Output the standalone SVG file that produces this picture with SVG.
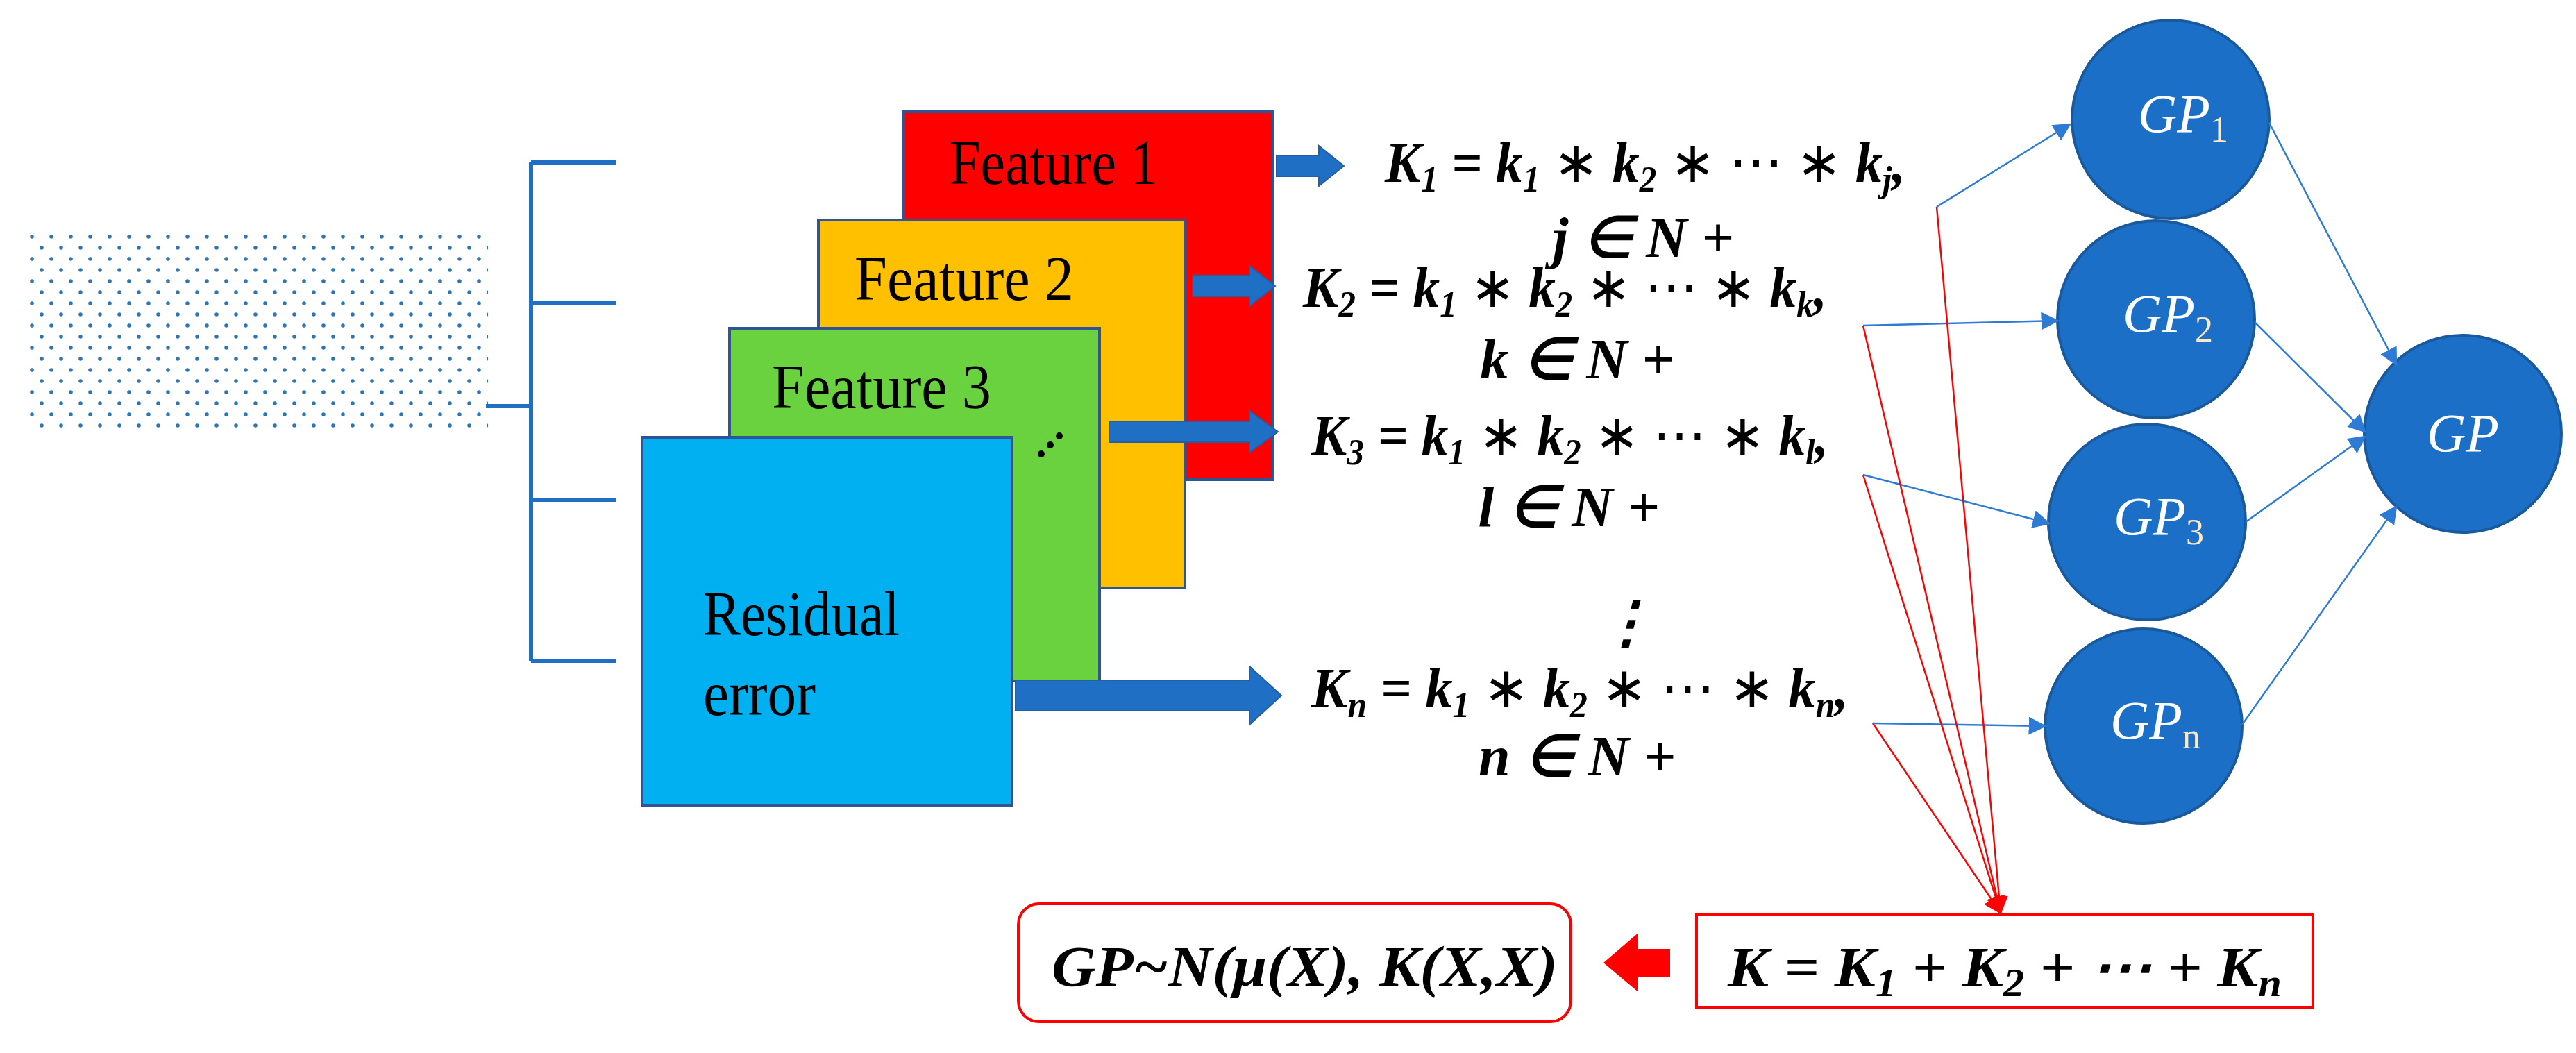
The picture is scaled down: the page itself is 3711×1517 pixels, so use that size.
<svg xmlns="http://www.w3.org/2000/svg" width="3711" height="1517" viewBox="0 0 3711 1517">
<style>
.feat{font-family:"Liberation Serif",serif;font-size:92px;fill:#000}
.math{font-family:"Liberation Serif",serif;font-style:italic;font-weight:bold;font-size:82px;fill:#000}
.op{font-weight:normal;font-style:normal}
.gp{font-family:"Liberation Serif",serif;font-style:italic;font-size:78px;fill:#fff}
.sub{font-family:"Liberation Serif",serif;font-style:normal;font-size:52px;fill:#fde9c8}
.node{fill:#1B6FC6;stroke:#1A5A9C;stroke-width:4}
.bl{stroke:#2E7BD6;stroke-width:2.5;fill:none}
.rl{stroke:#FF0000;stroke-width:2.5;fill:none}
.br{stroke:#1F6FC5;stroke-width:6;fill:none}
.barrow{fill:#1F6FC5;stroke:#2060A8;stroke-width:2}
</style>
<defs>
<pattern id="dots" x="43" y="338" width="28" height="32" patternUnits="userSpaceOnUse">
<circle cx="3" cy="3" r="2.8" fill="#2E75B6"/>
<circle cx="17" cy="19" r="2.8" fill="#2E75B6"/>
</pattern>
<marker id="ab2" viewBox="0 0 10 10" refX="9" refY="5" markerWidth="26" markerHeight="26" markerUnits="userSpaceOnUse" orient="auto"><path d="M0,0L10,5L0,10z" fill="#2E7BD6"/></marker>
<marker id="ar" viewBox="0 0 10 10" refX="9" refY="5" markerWidth="26" markerHeight="26" markerUnits="userSpaceOnUse" orient="auto"><path d="M0,0L10,5L0,10z" fill="#FF0000"/></marker>
</defs>

<g id="data"><rect x="43" y="338" width="660" height="285" fill="url(#dots)"/></g>

<g id="bracket">
<path class="br" d="M700,585H765M765,234V952M765,234H888M765,436H888M765,720H888M765,952H888"/>
</g>

<g id="feature1"><rect x="1302" y="161" width="532" height="530" fill="#FF0000" stroke="#2F5597" stroke-width="4"/>
<text class="feat" x="1368" y="265" textLength="300" lengthAdjust="spacingAndGlyphs">Feature 1</text></g>
<g id="feature2"><rect x="1179" y="317" width="528" height="530" fill="#FFC000" stroke="#2F5597" stroke-width="4"/>
<text class="feat" x="1231" y="432" textLength="316" lengthAdjust="spacingAndGlyphs">Feature 2</text></g>
<g id="feature3"><rect x="1051" y="473" width="533" height="508" fill="#6BD23F" stroke="#2F5597" stroke-width="4"/>
<text class="feat" x="1112" y="588" textLength="316" lengthAdjust="spacingAndGlyphs">Feature 3</text>
<circle cx="1500" cy="654" r="5" fill="#000"/><circle cx="1513" cy="641" r="5" fill="#000"/><circle cx="1526" cy="628" r="5" fill="#000"/></g>
<g id="residual"><rect x="925" y="630" width="533" height="530" fill="#00B0F0" stroke="#2F5597" stroke-width="4"/>
<text class="feat" x="1013" y="915" textLength="283" lengthAdjust="spacingAndGlyphs">Residual</text>
<text class="feat" x="1013" y="1030" textLength="162" lengthAdjust="spacingAndGlyphs">error</text></g>

<g id="block-arrows">
<path class="barrow" d="M1839,224H1900V210L1936,239L1900,268V254H1839Z"/>
<path class="barrow" d="M1718,397H1800V383L1837,412L1800,441V427H1718Z"/>
<path class="barrow" d="M1598,607H1800V592L1841,622L1800,652V637H1598Z"/>
<path class="barrow" d="M1463,980H1800V960L1846,1002L1800,1044V1024H1463Z"/>
</g>

<g id="formulas">
<text class="math" x="1995" y="262" textLength="750" lengthAdjust="spacingAndGlyphs">K<tspan font-size="52" dy="14">1</tspan><tspan dy="-14"> = k</tspan><tspan font-size="52" dy="14">1</tspan><tspan dy="-14" class="op"> ∗ </tspan><tspan>k</tspan><tspan font-size="52" dy="14">2</tspan><tspan dy="-14" class="op"> ∗ ⋯ ∗ </tspan><tspan>k</tspan><tspan font-size="52" dy="14">j</tspan><tspan dy="-14">,</tspan></text>
<text class="math" x="2367" y="370" text-anchor="middle">j ∈ N +</text>
<text class="math" x="1877" y="442" textLength="755" lengthAdjust="spacingAndGlyphs">K<tspan font-size="52" dy="14">2</tspan><tspan dy="-14"> = k</tspan><tspan font-size="52" dy="14">1</tspan><tspan dy="-14" class="op"> ∗ </tspan><tspan>k</tspan><tspan font-size="52" dy="14">2</tspan><tspan dy="-14" class="op"> ∗ ⋯ ∗ </tspan><tspan>k</tspan><tspan font-size="52" dy="14">k</tspan><tspan dy="-14">,</tspan></text>
<text class="math" x="2272" y="545" text-anchor="middle">k ∈ N +</text>
<text class="math" x="1889" y="655" textLength="745" lengthAdjust="spacingAndGlyphs">K<tspan font-size="52" dy="14">3</tspan><tspan dy="-14"> = k</tspan><tspan font-size="52" dy="14">1</tspan><tspan dy="-14" class="op"> ∗ </tspan><tspan>k</tspan><tspan font-size="52" dy="14">2</tspan><tspan dy="-14" class="op"> ∗ ⋯ ∗ </tspan><tspan>k</tspan><tspan font-size="52" dy="14">l</tspan><tspan dy="-14">,</tspan></text>
<text class="math" x="2260" y="758" text-anchor="middle">l ∈ N +</text>
<text class="math" x="2343" y="925" text-anchor="middle">⋮</text>
<text class="math" x="1889" y="1019" textLength="774" lengthAdjust="spacingAndGlyphs">K<tspan font-size="52" dy="14">n</tspan><tspan dy="-14"> = k</tspan><tspan font-size="52" dy="14">1</tspan><tspan dy="-14" class="op"> ∗ </tspan><tspan>k</tspan><tspan font-size="52" dy="14">2</tspan><tspan dy="-14" class="op"> ∗ ⋯ ∗ </tspan><tspan>k</tspan><tspan font-size="52" dy="14">n</tspan><tspan dy="-14">,</tspan></text>
<text class="math" x="2272" y="1117" text-anchor="middle">n ∈ N +</text>
</g>

<g id="gp1"><ellipse class="node" cx="3127" cy="172" rx="142" ry="143"/><text class="gp" x="3080" y="190">GP<tspan class="sub" dy="14">1</tspan></text></g>
<g id="gp2"><ellipse class="node" cx="3106" cy="460" rx="142" ry="142"/><text class="gp" x="3058" y="478">GP<tspan class="sub" dy="14">2</tspan></text></g>
<g id="gp3"><ellipse class="node" cx="3093" cy="752" rx="142" ry="141"/><text class="gp" x="3045" y="770">GP<tspan class="sub" dy="14">3</tspan></text></g>
<g id="gpn"><ellipse class="node" cx="3088" cy="1046" rx="142" ry="140"/><text class="gp" x="3040" y="1064">GP<tspan class="sub" dy="14">n</tspan></text></g>
<g id="gp"><ellipse class="node" cx="3548" cy="625" rx="142" ry="142"/><text class="gp" x="3548" y="650" text-anchor="middle">GP</text></g>

<g id="connectors">
<path class="bl" marker-end="url(#ab2)" d="M2790,298L2982,179"/>
<path class="bl" marker-end="url(#ab2)" d="M2684,469L2964,462"/>
<path class="bl" marker-end="url(#ab2)" d="M2684,684L2952,754"/>
<path class="bl" marker-end="url(#ab2)" d="M2698,1042L2946,1046"/>
<path class="bl" marker-end="url(#ab2)" d="M3269,177L3452,525"/>
<path class="bl" marker-end="url(#ab2)" d="M3248,464L3407,622"/>
<path class="bl" marker-end="url(#ab2)" d="M3235,752L3407,629"/>
<path class="bl" marker-end="url(#ab2)" d="M3230,1044L3452,730"/>
<path class="rl" marker-end="url(#ar)" d="M2790,298L2882,1315"/>
<path class="rl" marker-end="url(#ar)" d="M2684,469L2882,1315"/>
<path class="rl" marker-end="url(#ar)" d="M2684,684L2882,1315"/>
<path class="rl" marker-end="url(#ar)" d="M2698,1042L2882,1315"/>
<path d="M2406,1367H2360V1344L2310,1387L2360,1429V1407H2406Z" fill="#FF0000"/>
</g>

<g id="ksum"><rect x="2444" y="1317" width="888" height="135" fill="#fff" stroke="#FF0000" stroke-width="4"/>
<text class="math" x="2489" y="1421" font-size="90" textLength="798" lengthAdjust="spacingAndGlyphs">K = K<tspan font-size="56" dy="14">1</tspan><tspan dy="-14"> + K</tspan><tspan font-size="56" dy="14">2</tspan><tspan dy="-14"> + ⋯ + K</tspan><tspan font-size="56" dy="14">n</tspan></text></g>
<g id="gpdist"><rect x="1467" y="1302" width="796" height="170" rx="30" fill="#fff" stroke="#FF0000" stroke-width="4"/>
<text class="math" x="1515" y="1420" font-size="88" textLength="729" lengthAdjust="spacingAndGlyphs">GP~N(μ(X), K(X,X)</text></g>
</svg>
